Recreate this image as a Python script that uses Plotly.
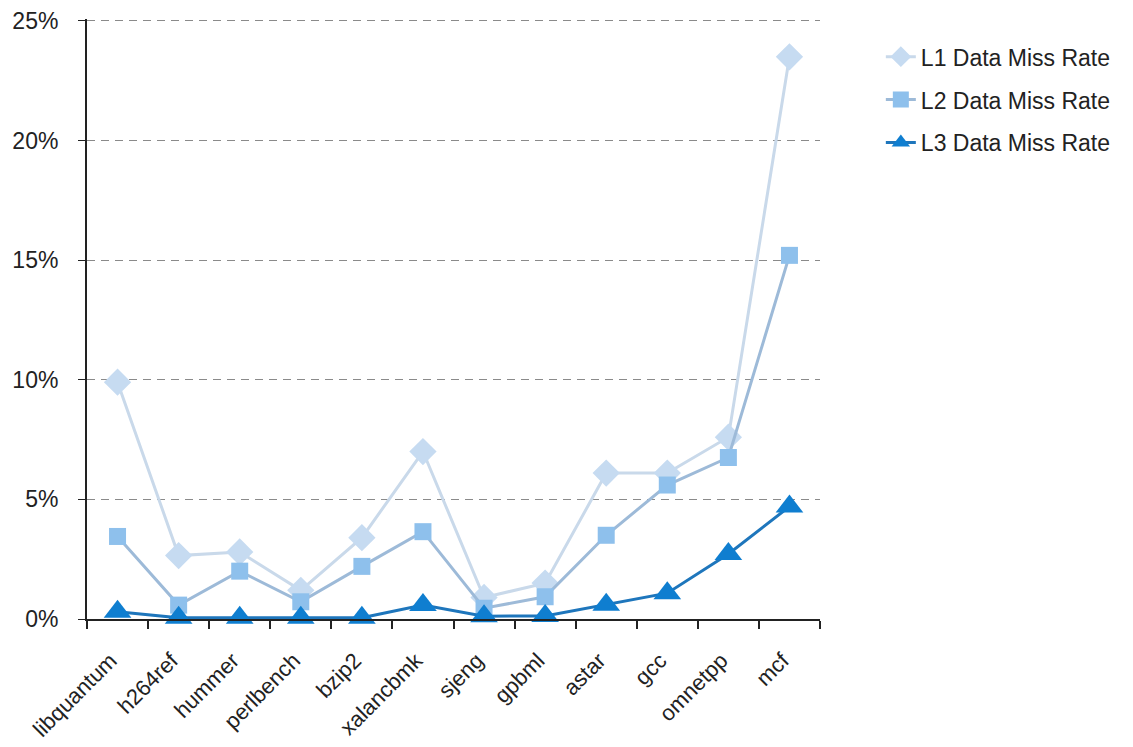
import plotly.graph_objects as go

categories = ["libquantum", "h264ref", "hummer", "perlbench", "bzip2", "xalancbmk",
              "sjeng", "gpbml", "astar", "gcc", "omnetpp", "mcf"]
l1_miss = [9.9, 2.65, 2.8, 1.2, 3.4, 7.0, 0.9, 1.5, 6.1, 6.1, 7.6, 23.5]
l2_miss = [3.45, 0.58, 2.0, 0.72, 2.2, 3.65, 0.45, 0.93, 3.5, 5.6, 6.75, 15.2]
l3_miss = [0.3, 0.05, 0.05, 0.05, 0.05, 0.58, 0.12, 0.13, 0.6, 1.08, 2.72, 4.7]
y_ticks = [0, 5, 10, 15, 20, 25]
y_tick_labels = ["0%", "5%", "10%", "15%", "20%", "25%"]

FONT = "Liberation Sans, Arial, sans-serif"

fig = go.Figure()
series = [
    ("L1 Data Miss Rate", l1_miss, "diamond", 21, "#C6DBF1", "#C9D9EA"),
    ("L2 Data Miss Rate", l2_miss, "square", 17, "#8EC0EC", "#9DBAD8"),
    ("L3 Data Miss Rate", l3_miss, "triangle-up", 24, "#0F7ED0", "#1E76BC"),
]
for i, (name, vals, sym, size, mcol, lcol) in enumerate(series):
    fig.add_trace(go.Scatter(
        x=categories, y=vals, name=name, mode="lines+markers",
        line=dict(color=lcol, width=3),
        marker=dict(symbol=sym, size=size, color=mcol, line=dict(width=0)),
        cliponaxis=False, legendgroup=f"g{i}",
    ))

fig.update_layout(
    width=1133, height=747,
    margin=dict(l=79, r=321, t=11, b=136),
    paper_bgcolor="white", plot_bgcolor="white",
    font=dict(family=FONT, size=21, color="#222222"),
    showlegend=True,
    legend=dict(x=1.083, y=0.973, xanchor="left", yanchor="top",
                font=dict(size=23, color="#222222"),
                tracegroupgap=10, traceorder="grouped",
                bgcolor="rgba(0,0,0,0)"),
    xaxis=dict(
        type="category", range=[-0.5, 11.5], automargin=False,
        showline=True, linecolor="#222222", linewidth=2,
        ticks="outside", tickson="boundaries", ticklen=8, tickcolor="#222222", tickwidth=2,
        tickangle=-45, showgrid=False, zeroline=False,
        ticklabelstandoff=18, ticklabelshift=-7,
        tickfont=dict(size=22, color="#222222"),
    ),
    yaxis=dict(
        range=[0, 25.08], tickvals=y_ticks, ticktext=y_tick_labels, automargin=False,
        showline=True, linecolor="#222222", linewidth=2,
        ticks="outside", ticklen=7, tickcolor="#222222", tickwidth=1,
        ticklabelstandoff=15, ticklabeloverflow="allow",
        showgrid=True, gridcolor="#8a8a8a", griddash="8px,6px", gridwidth=1,
        zeroline=False, tickfont=dict(size=23, color="#222222"),
    ),
)

fig.write_html("out.html")
